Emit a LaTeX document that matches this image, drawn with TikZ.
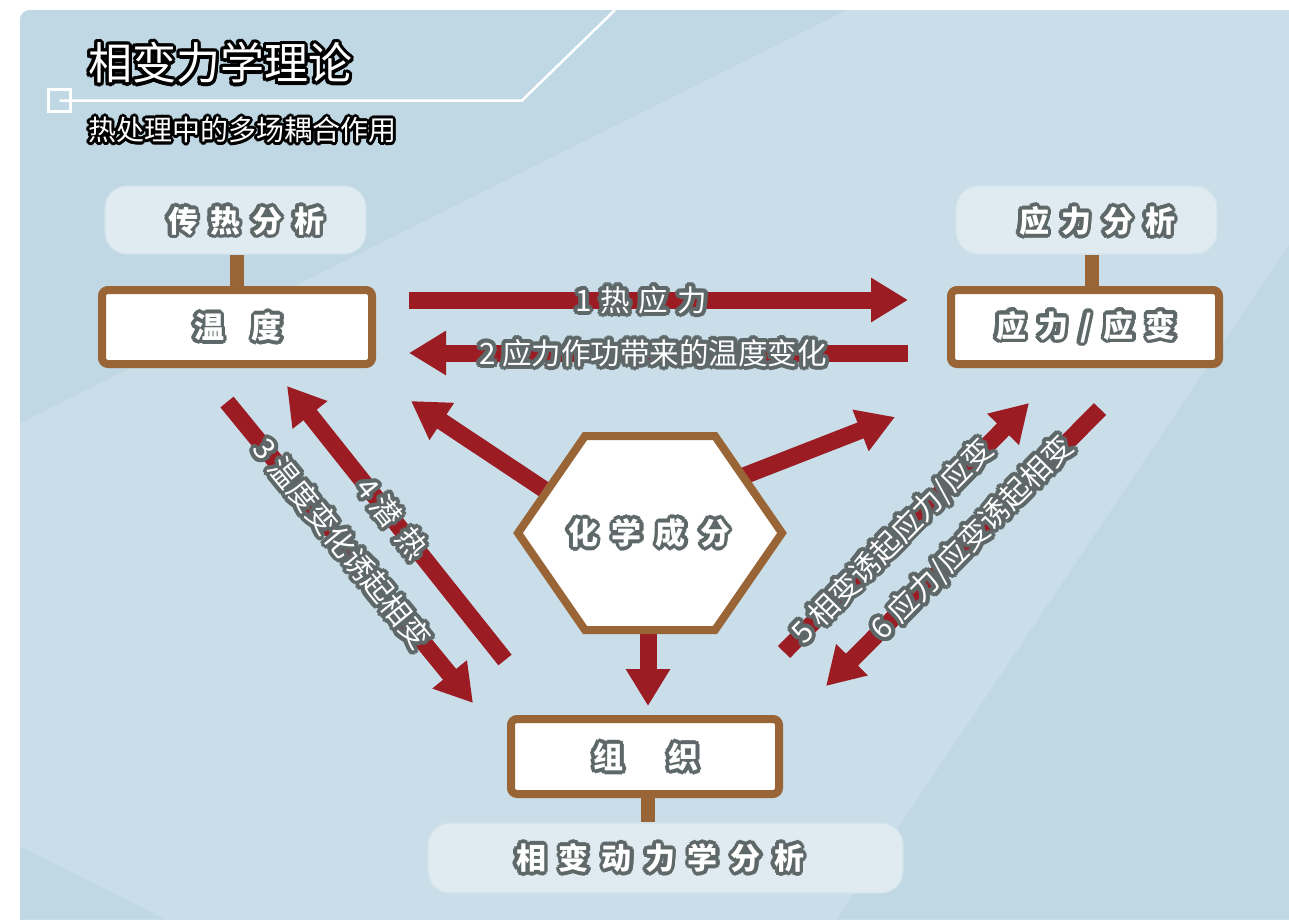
\documentclass[tikz,border=0pt]{standalone}
\usepackage{fontspec}
\newfontfamily\cjk{Noto Sans CJK SC}
\usetikzlibrary{arrows.meta}
\definecolor{bgA}{HTML}{C9DEE8}
\definecolor{bgB}{HTML}{C0D8E4}
\definecolor{palefill}{HTML}{DFEAF1}
\definecolor{paleline}{HTML}{D3E3EC}
\definecolor{brownc}{HTML}{9A6536}
\definecolor{darkred}{HTML}{9C1C24}
\definecolor{outg}{HTML}{5F6868}

% halo text: #1 options, #2 position, #3 outline colour, #4 radius, #5 half radius, #6 name, #7 text
\newcommand\halotext[7]{%
 \foreach \ang in {0,22.5,...,337.5}{\node[#1, text=#3, shift={(\ang:#4)}] at (#2) {#7};}%
 \foreach \ang in {0,45,...,315}{\node[#1, text=#3, shift={(\ang:#5)}] at (#2) {#7};}%
 \node[#1, text=white] (#6) at (#2) {#7};}
% arrow label: #1 start, #2 end, #3 pos, #4 name, #5 text
\newcommand\arrowlabel[5]{%
 \foreach \ang in {0,22.5,...,337.5}{\path (#1) -- node[lab, pos=#3, text=outg, shift={(\ang:4)}] {#5} (#2);}%
 \foreach \ang in {0,45,...,315}{\path (#1) -- node[lab, pos=#3, text=outg, shift={(\ang:2)}] {#5} (#2);}%
 \path (#1) -- node[lab, pos=#3, text=white] (#4) {#5} (#2);}

\begin{document}
\begin{tikzpicture}[x=1pt,y=-1pt,
  redarrow/.style={draw=darkred, line width=17pt, -{Triangle[length=37pt,width=42pt]}},
  palebox/.style={rectangle, rounded corners=22pt, fill=palefill, draw=paleline, line width=1.2pt, inner sep=0},
  brownbox/.style={rectangle, rounded corners=6pt, fill=white, draw=brownc, line width=8pt, inner sep=0, minimum height=74pt},
  bar/.style={draw=brownc, line width=14pt},
  boxfont/.style={font=\cjk\bfseries\fontsize{30}{36}\selectfont, inner sep=0},
  lab/.style={font=\cjk\fontsize{29.5}{34}\selectfont, inner sep=0, sloped},
  whiteline/.style={draw=white, line width=2.5pt}
]
\useasboundingbox (0,0) rectangle (1289,919);
\fill[white] (0,0) rectangle (1289,919);
\begin{scope}
\clip[rounded corners=10pt] (20,10) rectangle (1320,950);
\fill[bgA] (20,10) rectangle (1320,950);
\fill[bgB] (20,10) -- (847,10) -- (20,423) -- cycle;
\fill[bgB] (20,847) -- (165,919) -- (20,919) -- cycle;
\fill[bgB] (1289,245) -- (1289,919) -- (837,919) -- cycle;
\end{scope}

% title
\halotext{anchor=west, inner sep=0, font=\cjk\fontsize{44}{50}\selectfont}{88,63}{black}{3.2}{1.6}{title}{相变力学理论}
\halotext{anchor=west, inner sep=0, font=\cjk\fontsize{28}{32}\selectfont}{88,130}{black}{2.8}{1.4}{subtitle}{热处理中的多场耦合作用}
\node[draw=white, line width=2.5pt, minimum size=22pt, inner sep=0] (sq) at (59.5,100.5) {};
\coordinate (knee) at (522,100.5);
\coordinate (lineend) at (615,10);
\draw[whiteline] (sq.center) -- (knee) -- (lineend);

% analysis boxes
\node[palebox, minimum width=261pt, minimum height=68pt] (lpale) at (235.5,220) {};
\node[palebox, minimum width=261pt, minimum height=68pt] (rpale) at (1086.5,220) {};
\node[palebox, minimum width=475pt, minimum height=70pt] (bpale) at (665.5,858) {};
\halotext{boxfont}{246,221}{outg}{3.6}{1.8}{lpaletext}{传\hspace{12pt}热\hspace{12pt}分\hspace{12pt}析}
\halotext{boxfont}{1097,221}{outg}{3.6}{1.8}{rpaletext}{应\hspace{12pt}力\hspace{12pt}分\hspace{12pt}析}
\halotext{boxfont}{660,858}{outg}{3.6}{1.8}{bpaletext}{相\hspace{13pt}变\hspace{13pt}动\hspace{13pt}力\hspace{13pt}学\hspace{13pt}分\hspace{13pt}析}

% main boxes
\node[brownbox, minimum width=270pt] (temp) at (237,327) {};
\node[brownbox, minimum width=268pt] (stress) at (1085,327) {};
\node[brownbox, minimum width=268pt, minimum height=75pt] (micro) at (645,756.5) {};
\halotext{boxfont}{238,327}{outg}{3.6}{1.8}{temptext}{温\hspace{28pt}度}
\halotext{boxfont}{1086,327}{outg}{3.6}{1.8}{stresstext}{应\hspace{12pt}力\hspace{12pt}/\hspace{12pt}应\hspace{12pt}变}
\halotext{boxfont}{646,757}{outg}{3.6}{1.8}{microtext}{组\hspace{45pt}织}

% bars
\draw[bar] (temp.north) -- (temp.north |- lpale.south);
\draw[bar] ([xshift=7pt]stress.north) -- ([xshift=7pt]stress.north |- rpale.south);
\draw[bar] ([xshift=3pt]micro.south) -- ([xshift=3pt]micro.south |- bpale.north);

% arrow end points
\coordinate (a1s) at (409,300);  \coordinate (a1e) at (908,300);
\coordinate (a2s) at (908,353);  \coordinate (a2e) at (409,353);
\coordinate (a3s) at (227,402);  \coordinate (a3e) at (473,703);
\coordinate (a4s) at (505,660);  \coordinate (a4e) at (287,386);
\coordinate (a5s) at (784,652);  \coordinate (a5e) at (1029,403);
\coordinate (a6s) at (1100,409); \coordinate (a6e) at (826,686);
\coordinate (a7s) at (575,510);  \coordinate (a7e) at (411,401);
\coordinate (a8s) at (700,493);  \coordinate (a8e) at (895,417);
\coordinate (a9s) at (648,600);  \coordinate (a9e) at (648,706);

\draw[redarrow] (a1s) -- (a1e);
\draw[redarrow] (a2s) -- (a2e);
\draw[redarrow] (a3s) -- (a3e);
\draw[redarrow] (a4s) -- (a4e);
\draw[redarrow] (a5s) -- (a5e);
\draw[redarrow] (a6s) -- (a6e);
\draw[redarrow] (a7s) -- (a7e);
\draw[redarrow] (a8s) -- (a8e);
\draw[redarrow] (a9s) -- (a9e);

\arrowlabel{a1s}{a1e}{0.465}{l1}{1\hspace{9pt}热\hspace{9pt}应\hspace{9pt}力}
\arrowlabel{a2s}{a2e}{0.511}{l2}{2 应力作功带来的温度变化}
\arrowlabel{a3s}{a3e}{0.47}{l3}{3\hspace{8pt}温度变化诱起相变}
\arrowlabel{a4s}{a4e}{0.517}{l4}{4\hspace{6pt}潜\hspace{12pt}热}
\arrowlabel{a5s}{a5e}{0.443}{l5}{5\hspace{8pt}相变诱起应力/应变}
\arrowlabel{a6s}{a6e}{0.466}{l6}{6\hspace{8pt}应力/应变诱起相变}

% hexagon
\coordinate (hL) at (518,533);
\coordinate (hTL) at (585,436);
\coordinate (hTR) at (715,436);
\coordinate (hR) at (782,533);
\coordinate (hBR) at (715,630);
\coordinate (hBL) at (585,630);
\draw[draw=brownc, fill=white, line width=8pt, line join=miter] (hL) -- (hTL) -- (hTR) -- (hR) -- (hBR) -- (hBL) -- cycle;
\halotext{boxfont}{649,533}{outg}{3.6}{1.8}{chem}{化\hspace{14pt}学\hspace{14pt}成\hspace{14pt}分}
\end{tikzpicture}
\end{document}
